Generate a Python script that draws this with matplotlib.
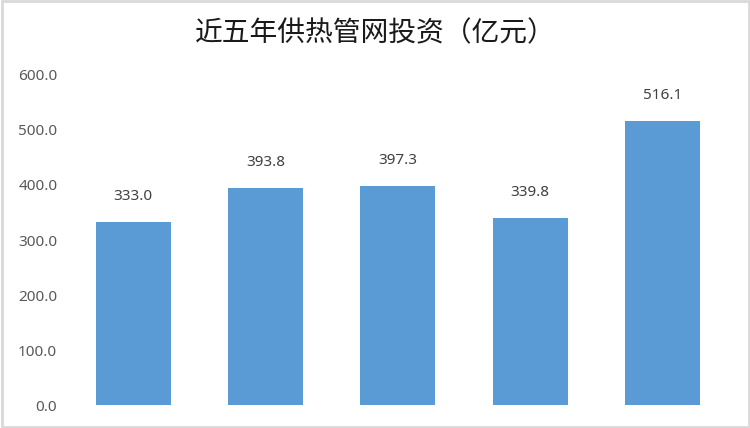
import matplotlib.pyplot as plt
from matplotlib.patches import Rectangle

plt.rcParams['font.family'] = ['Noto Sans CJK SC', 'DejaVu Sans']

TITLE = '近五年供热管网投资（亿元）'
VALUES = [333.0, 393.8, 397.3, 339.8, 516.1]
Y_TICKS = [0, 100, 200, 300, 400, 500, 600]
BAR_COLOR = '#5B9BD5'


fig = plt.figure(figsize=(7.5, 4.28), dpi=100)
ax = fig.add_axes([0.0893, 0.0537, 0.8822, 0.7711])

x = list(range(len(VALUES)))
bars = ax.bar(x, VALUES, width=0.567, color=BAR_COLOR)

for rect, v in zip(bars, VALUES):
    ax.annotate(f'{v:.1f}', (rect.get_x() + rect.get_width() / 2, v),
                xytext=(0, 13), textcoords='offset points',
                ha='center', va='bottom', fontsize=11, color='#404040',
                family='Noto Sans')

ax.set_xlim(-0.5, len(VALUES) - 0.5)
ax.set_ylim(0, 600)
ax.set_yticks(Y_TICKS)
ax.set_yticklabels([f'{t:.1f}' for t in Y_TICKS], fontsize=11, color='#595959',
                   family='Noto Sans')
ax.set_xticks([])
ax.tick_params(axis='y', length=0, pad=7)
for s in ax.spines.values():
    s.set_visible(False)

fig.text(0.5, 0.922, TITLE, ha='center', va='center', fontsize=20,
         fontweight='medium', color='#1a1a1a')

# light frame round the whole picture
fig.patches.append(Rectangle((0.002, 0.003), 0.996, 0.994, transform=fig.transFigure,
                             fill=False, edgecolor='#d9d9d9', linewidth=2))

plt.savefig('out.png', dpi=100)
